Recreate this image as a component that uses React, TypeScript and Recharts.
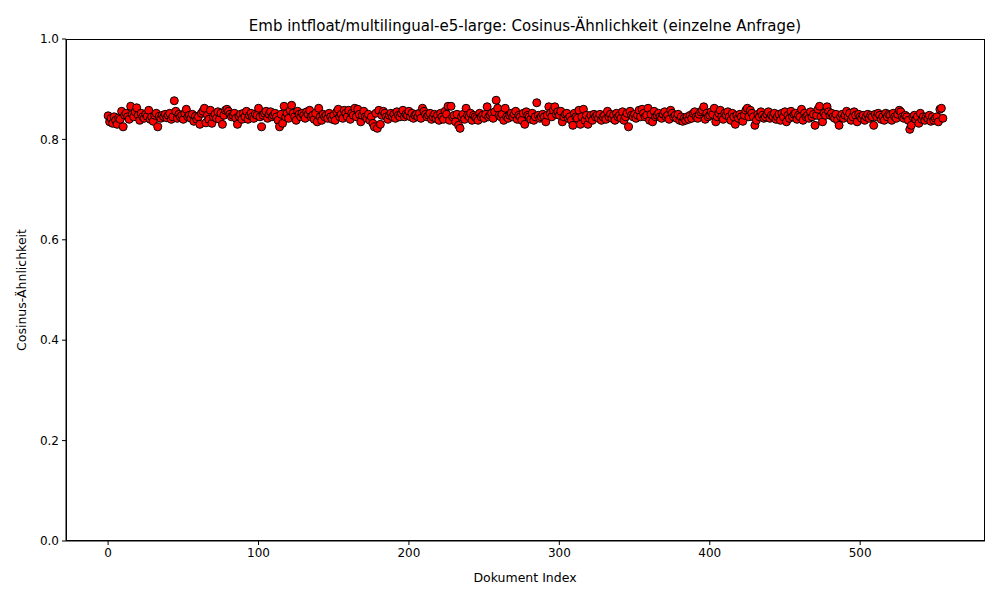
import React from 'react';
import { ScatterChart, Scatter, XAxis, YAxis } from 'recharts';

const similarity = [
  0.847,0.835,0.842,0.832,0.845,0.838,0.830,0.843,0.840,0.856,0.825,0.848,0.852,0.845,0.840,0.866,0.850,0.845,0.855,0.863,
  0.848,0.838,0.852,0.845,0.842,0.850,0.846,0.858,0.840,0.845,0.836,0.848,0.852,0.825,0.846,0.842,0.848,0.845,0.850,0.843,
  0.848,0.852,0.840,0.845,0.877,0.856,0.842,0.850,0.845,0.848,0.840,0.852,0.860,0.845,0.848,0.842,0.850,0.836,0.846,0.840,
  0.845,0.830,0.852,0.856,0.862,0.833,0.848,0.840,0.858,0.832,0.845,0.850,0.842,0.855,0.840,0.852,0.830,0.848,0.858,0.860,
  0.856,0.850,0.845,0.848,0.852,0.842,0.830,0.846,0.850,0.840,0.852,0.845,0.856,0.840,0.848,0.852,0.845,0.842,0.850,0.848,
  0.862,0.845,0.825,0.848,0.852,0.856,0.842,0.850,0.855,0.845,0.848,0.852,0.845,0.838,0.825,0.850,0.832,0.866,0.845,0.852,
  0.842,0.858,0.868,0.852,0.845,0.838,0.856,0.850,0.845,0.852,0.848,0.842,0.855,0.850,0.858,0.845,0.848,0.840,0.852,0.835,
  0.862,0.845,0.838,0.850,0.845,0.848,0.842,0.852,0.845,0.840,0.848,0.838,0.855,0.860,0.845,0.850,0.842,0.858,0.852,0.845,
  0.858,0.840,0.852,0.848,0.862,0.845,0.860,0.850,0.835,0.848,0.856,0.845,0.842,0.850,0.838,0.845,0.832,0.825,0.852,0.822,
  0.858,0.830,0.848,0.856,0.852,0.845,0.840,0.848,0.852,0.845,0.850,0.842,0.855,0.848,0.845,0.852,0.858,0.845,0.850,0.848,
  0.856,0.845,0.852,0.842,0.848,0.850,0.845,0.852,0.842,0.862,0.856,0.850,0.845,0.848,0.852,0.840,0.845,0.850,0.842,0.848,
  0.838,0.852,0.845,0.840,0.856,0.850,0.866,0.838,0.866,0.845,0.848,0.835,0.850,0.828,0.822,0.845,0.850,0.840,0.862,0.848,
  0.845,0.852,0.838,0.848,0.845,0.842,0.838,0.852,0.845,0.848,0.842,0.850,0.865,0.845,0.848,0.852,0.842,0.855,0.878,0.862,
  0.848,0.845,0.850,0.838,0.862,0.845,0.842,0.848,0.852,0.845,0.850,0.856,0.840,0.848,0.845,0.838,0.852,0.830,0.855,0.848,
  0.845,0.840,0.852,0.838,0.845,0.873,0.848,0.842,0.845,0.850,0.845,0.835,0.848,0.865,0.852,0.845,0.858,0.865,0.850,0.855,
  0.848,0.856,0.835,0.845,0.850,0.852,0.842,0.845,0.838,0.828,0.852,0.845,0.842,0.858,0.830,0.845,0.860,0.838,0.848,0.830,
  0.842,0.848,0.838,0.850,0.845,0.848,0.842,0.850,0.838,0.845,0.848,0.840,0.856,0.845,0.850,0.842,0.848,0.838,0.852,0.845,
  0.848,0.842,0.855,0.838,0.845,0.852,0.825,0.856,0.848,0.845,0.850,0.842,0.848,0.858,0.845,0.860,0.852,0.845,0.848,0.862,
  0.838,0.850,0.835,0.856,0.845,0.848,0.852,0.845,0.842,0.850,0.855,0.845,0.848,0.840,0.858,0.852,0.845,0.848,0.842,0.850,
  0.838,0.845,0.836,0.842,0.838,0.845,0.840,0.848,0.842,0.852,0.855,0.845,0.842,0.850,0.855,0.858,0.865,0.840,0.852,0.845,
  0.848,0.855,0.850,0.862,0.835,0.845,0.852,0.858,0.845,0.840,0.852,0.848,0.855,0.845,0.838,0.852,0.845,0.830,0.848,0.842,
  0.850,0.845,0.836,0.848,0.858,0.862,0.845,0.858,0.852,0.845,0.828,0.838,0.850,0.845,0.855,0.848,0.842,0.845,0.850,0.855,
  0.842,0.848,0.845,0.852,0.840,0.845,0.850,0.838,0.852,0.845,0.855,0.835,0.848,0.842,0.856,0.845,0.850,0.852,0.840,0.848,
  0.845,0.860,0.838,0.852,0.845,0.848,0.842,0.855,0.845,0.850,0.828,0.848,0.860,0.866,0.845,0.835,0.852,0.848,0.865,0.855,
  0.848,0.852,0.845,0.842,0.850,0.838,0.828,0.845,0.850,0.842,0.848,0.856,0.845,0.852,0.838,0.845,0.855,0.848,0.835,0.850,
  0.845,0.842,0.848,0.838,0.845,0.850,0.842,0.848,0.845,0.828,0.850,0.845,0.852,0.848,0.840,0.845,0.838,0.852,0.845,0.850,
  0.848,0.838,0.852,0.845,0.842,0.850,0.858,0.855,0.845,0.842,0.848,0.845,0.838,0.820,0.828,0.845,0.848,0.840,0.845,0.832,
  0.852,0.840,0.845,0.838,0.845,0.842,0.848,0.836,0.845,0.838,0.842,0.845,0.835,0.860,0.862,0.842,
];

const xTicks = [0, 100, 200, 300, 400, 500];
const yTicks = [0, 0.2, 0.4, 0.6, 0.8, 1.0];

const points = similarity.map((v, i) => ({ index: i, value: v }));

const font = 'DejaVu Sans, sans-serif';
const tickStyle = { fill: '#000', fontSize: 12, fontFamily: font };

const Dot = (props: any) => (
  <circle cx={props.cx} cy={props.cy} r={4} fill="#ff0000" stroke="#000" strokeWidth={1} />
);

export default function App() {
  return (
    <div style={{ position: 'absolute', left: 0, top: 0, width: 1000, height: 600, background: '#fff' }}>
      <ScatterChart width={1000} height={600} margin={{ top: 39, right: 15, bottom: 29, left: 20 }}>
        <XAxis
          type="number"
          dataKey="index"
          domain={[-28, 583]}
          ticks={xTicks}
          tick={tickStyle}
          tickSize={4}
          tickMargin={3}
          stroke="#000"
          height={30}
          allowDataOverflow
        />
        <YAxis
          type="number"
          dataKey="value"
          domain={[0, 1]}
          ticks={yTicks}
          tickFormatter={(v: number) => v.toFixed(1)}
          tick={tickStyle}
          tickSize={4}
          tickMargin={3}
          stroke="#000"
          width={46}
        />
        <Scatter data={points} shape={<Dot />} isAnimationActive={false} />
        <text x={525} y={31} textAnchor="middle" fontSize={15} fontFamily={font} fill="#000">
          Emb intfloat/multilingual-e5-large: Cosinus-Ähnlichkeit (einzelne Anfrage)
        </text>
        <text x={525} y={582} textAnchor="middle" fontSize={12.5} fontFamily={font} fill="#000">
          Dokument Index
        </text>
        <text x={26} y={290} textAnchor="middle" fontSize={12.5} fontFamily={font} fill="#000" transform="rotate(-90 26 290)">
          Cosinus-Ähnlichkeit
        </text>
      </ScatterChart>
      <div
        style={{
          position: 'absolute',
          left: 65.5,
          top: 38.5,
          width: 919,
          height: 502,
          border: '1px solid #000',
          boxSizing: 'border-box',
          pointerEvents: 'none',
        }}
      />
    </div>
  );
}
